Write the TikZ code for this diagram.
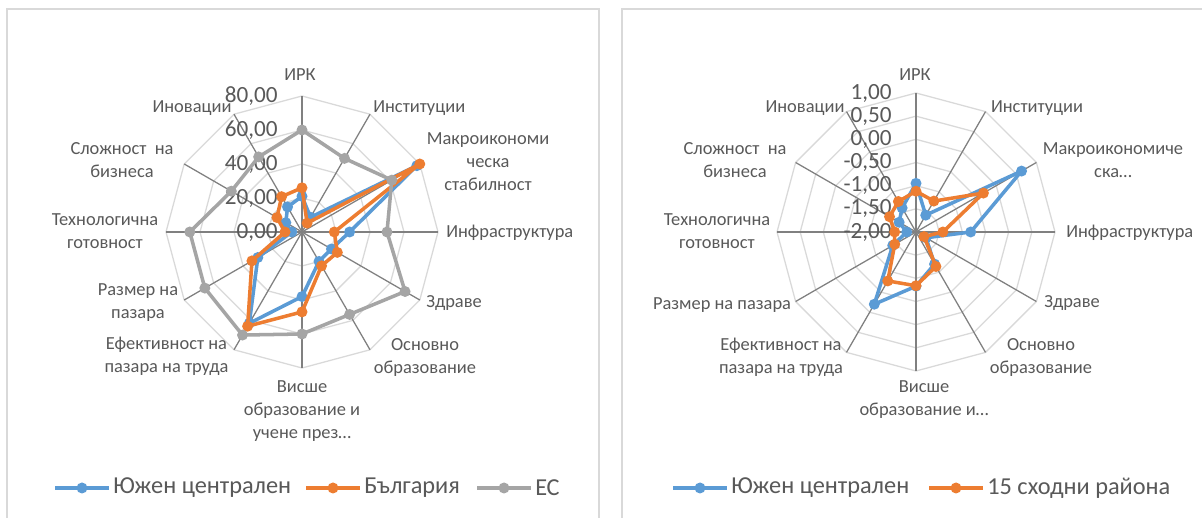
\documentclass[tikz,border=0pt]{standalone}
\usepackage{fontspec}
\setmainfont{Carlito}
\usetikzlibrary{calc}

\definecolor{serblue}{HTML}{5B9BD5}
\definecolor{serorange}{HTML}{ED7D31}
\definecolor{sergrey}{HTML}{A5A5A5}
\definecolor{txtgrey}{HTML}{595959}
\definecolor{ringgrey}{HTML}{D9D9D9}
\definecolor{spokegrey}{HTML}{808080}

\tikzset{
  ring/.style={draw=ringgrey,line width=0.9pt},
  spoke/.style={draw=spokegrey,line width=0.9pt},
  frame/.style={draw=ringgrey,line width=1pt},
  lbl/.style={text=txtgrey,font=\fontsize{13.1}{16.3}\selectfont,align=center,inner sep=0pt},
  tick/.style={text=txtgrey,font=\fontsize{16.5}{18}\selectfont,anchor=east,inner sep=0pt},
  series/.style={line width=2.5pt,line join=round},
  legtxt/.style={text=txtgrey,font=\fontsize{17.3}{19}\selectfont,anchor=west,inner sep=0pt}
}

\begin{document}
\begin{tikzpicture}[x=0.025cm,y=0.025cm]
  \useasboundingbox (0,0) rectangle (1202,518);
  \fill[white] (0,0) rectangle (1202,518);
  % chart frames
  \draw[frame] (7,-10) |- (599,509) -- (599,-10);
  \draw[frame] (622,-10) |- (1215,509);

  % left chart
  \begin{scope}[shift={(302,286)}]
    \coordinate (lc) at (0,0);
    \foreach \r in {34,68,102,136}{
      \draw[ring] (0:\r) \foreach \a in {30,60,...,330}{ -- (\a:\r)} -- cycle;
    }
    \foreach \i in {1,...,12}{
      \coordinate (lo\i) at ({90-(\i-1)*30}:136);
      \draw[spoke] (lc) -- (lo\i);
    }
    \foreach \v [count=\i] in {21,10,78,28,20,20,38,62,30,6,11,17}
      \coordinate (lb\i) at ({90-(\i-1)*30}:{\v*1.7});
    \foreach \v [count=\i] in {26,6,80,19,24,23,47,64,34,10,17,24}
      \coordinate (lr\i) at ({90-(\i-1)*30}:{\v*1.7});
    \foreach \v [count=\i] in {60,50,61,50,70,56,60,70,66,66,48,51}
      \coordinate (lg\i) at ({90-(\i-1)*30}:{\v*1.7});
  \end{scope}
  \foreach \v in {0,20,40,60,80}
    \node[tick] (lt\v) at (278,{286+\v*1.7}) {\v,00};
  \draw[series,serblue] (lb1) \foreach \i in {2,...,12}{ -- (lb\i)} -- cycle;
  \foreach \i in {1,...,12} \fill[serblue] (lb\i) circle (5.5);
  \draw[series,serorange] (lr1) \foreach \i in {2,...,12}{ -- (lr\i)} -- cycle;
  \foreach \i in {1,...,12} \fill[serorange] (lr\i) circle (5.5);
  \draw[series,sergrey] (lg1) \foreach \i in {2,...,12}{ -- (lg\i)} -- cycle;
  \foreach \i in {1,...,12} \fill[sergrey] (lg\i) circle (5.5);

  \foreach \x/\y/\an/\t [count=\i] in {
      300/443/center/{ИРК},
      373/410/west/{Институции},
      488/356/center/{Макроикономи\\ческа\\стабилност},
      446/285/west/{Инфраструктура},
      426/215/west/{Здраве},
      425/160.5/center/{Основно\\образование},
      302/107/center/{Висше\\образование и\\учене през…},
      166.5/162/center/{Ефективност на\\пазара на труда},
      138/215.5/center/{Размер на\\пазара},
      105/286.5/center/{Технологична\\готовност},
      122/357.5/center/{Сложност~ на\\бизнеса},
      192/410/center/{Иновации}}
    \node[lbl,anchor=\an] (ll\i) at (\x,\y) {\t};

  % right chart
  \begin{scope}[shift={(916,286)}]
    \coordinate (rc) at (0,0);
    \foreach \k in {1,...,6}{
      \draw[ring] (0:{\k*139/6}) \foreach \a in {30,60,...,330}{ -- (\a:{\k*139/6})} -- cycle;
    }
    \foreach \i in {1,...,12}{
      \coordinate (ro\i) at ({90-(\i-1)*30}:139);
      \draw[spoke] (rc) -- (ro\i);
    }
    \foreach \v [count=\i] in {-0.95,-1.58,0.63,-0.82,-1.75,-1.2,-0.83,-0.2,-1.42,-1.8,-1.58,-1.4}
      \coordinate (rb\i) at ({90-(\i-1)*30}:{(\v+2)*139/3});
    \foreach \v [count=\i] in {-1.12,-1.23,-0.32,-1.42,-1.8,-1.14,-0.84,-0.78,-1.47,-1.54,-1.34,-1.24}
      \coordinate (rr\i) at ({90-(\i-1)*30}:{(\v+2)*139/3});
  \end{scope}
  \foreach \v/\s [count=\i] in {1/{1,00},0.5/{0,50},0/{0,00},-0.5/{-0,50},-1/{-1,00},-1.5/{-1,50},-2/{-2,00}}
    \node[tick] (rt\i) at (892,{286+(\v+2)*139/3}) {\s};
  \draw[series,serblue] (rb1) \foreach \i in {2,...,12}{ -- (rb\i)} -- cycle;
  \foreach \i in {1,...,12} \fill[serblue] (rb\i) circle (5.5);
  \draw[series,serorange] (rr1) \foreach \i in {2,...,12}{ -- (rr\i)} -- cycle;
  \foreach \i in {1,...,12} \fill[serorange] (rr\i) circle (5.5);

  \foreach \x/\y/\an/\t [count=\i] in {
      915/443/center/{ИРК},
      1037/410/center/{Институции},
      1113/357.5/center/{Макроикономиче\\ска…},
      1066/285/west/{Инфраструктура},
      1044/215/west/{Здраве},
      1041/160.5/center/{Основно\\образование},
      924/118/center/{Висше\\образование и…},
      781/160.5/center/{Ефективност на\\пазара на труда},
      722/213/center/{Размер на пазара},
      717/286.5/center/{Технологична\\готовност},
      735/357.5/center/{Сложност~ на\\бизнеса},
      805/410/center/{Иновации}}
    \node[lbl,anchor=\an] (rl\i) at (\x,\y) {\t};

  % legends
  \foreach \a/\b/\c/\t [count=\i] in {55/109/serblue/{Южен централен},
      306/360/serorange/{България},477/531/sergrey/{ЕС},
      673/727/serblue/{Южен централен},929/983/serorange/{15 сходни района}}{
    \coordinate (ka\i) at (\a,30);
    \coordinate (kb\i) at (\b,30);
    \draw[series,\c] (ka\i) -- (kb\i);
    \fill[\c] ($ (ka\i)!0.5!(kb\i) $) circle (5.5);
    \node[legtxt] (kt\i) at ($ (kb\i)+(4,0) $) {\t};
  }
\end{tikzpicture}
\end{document}
